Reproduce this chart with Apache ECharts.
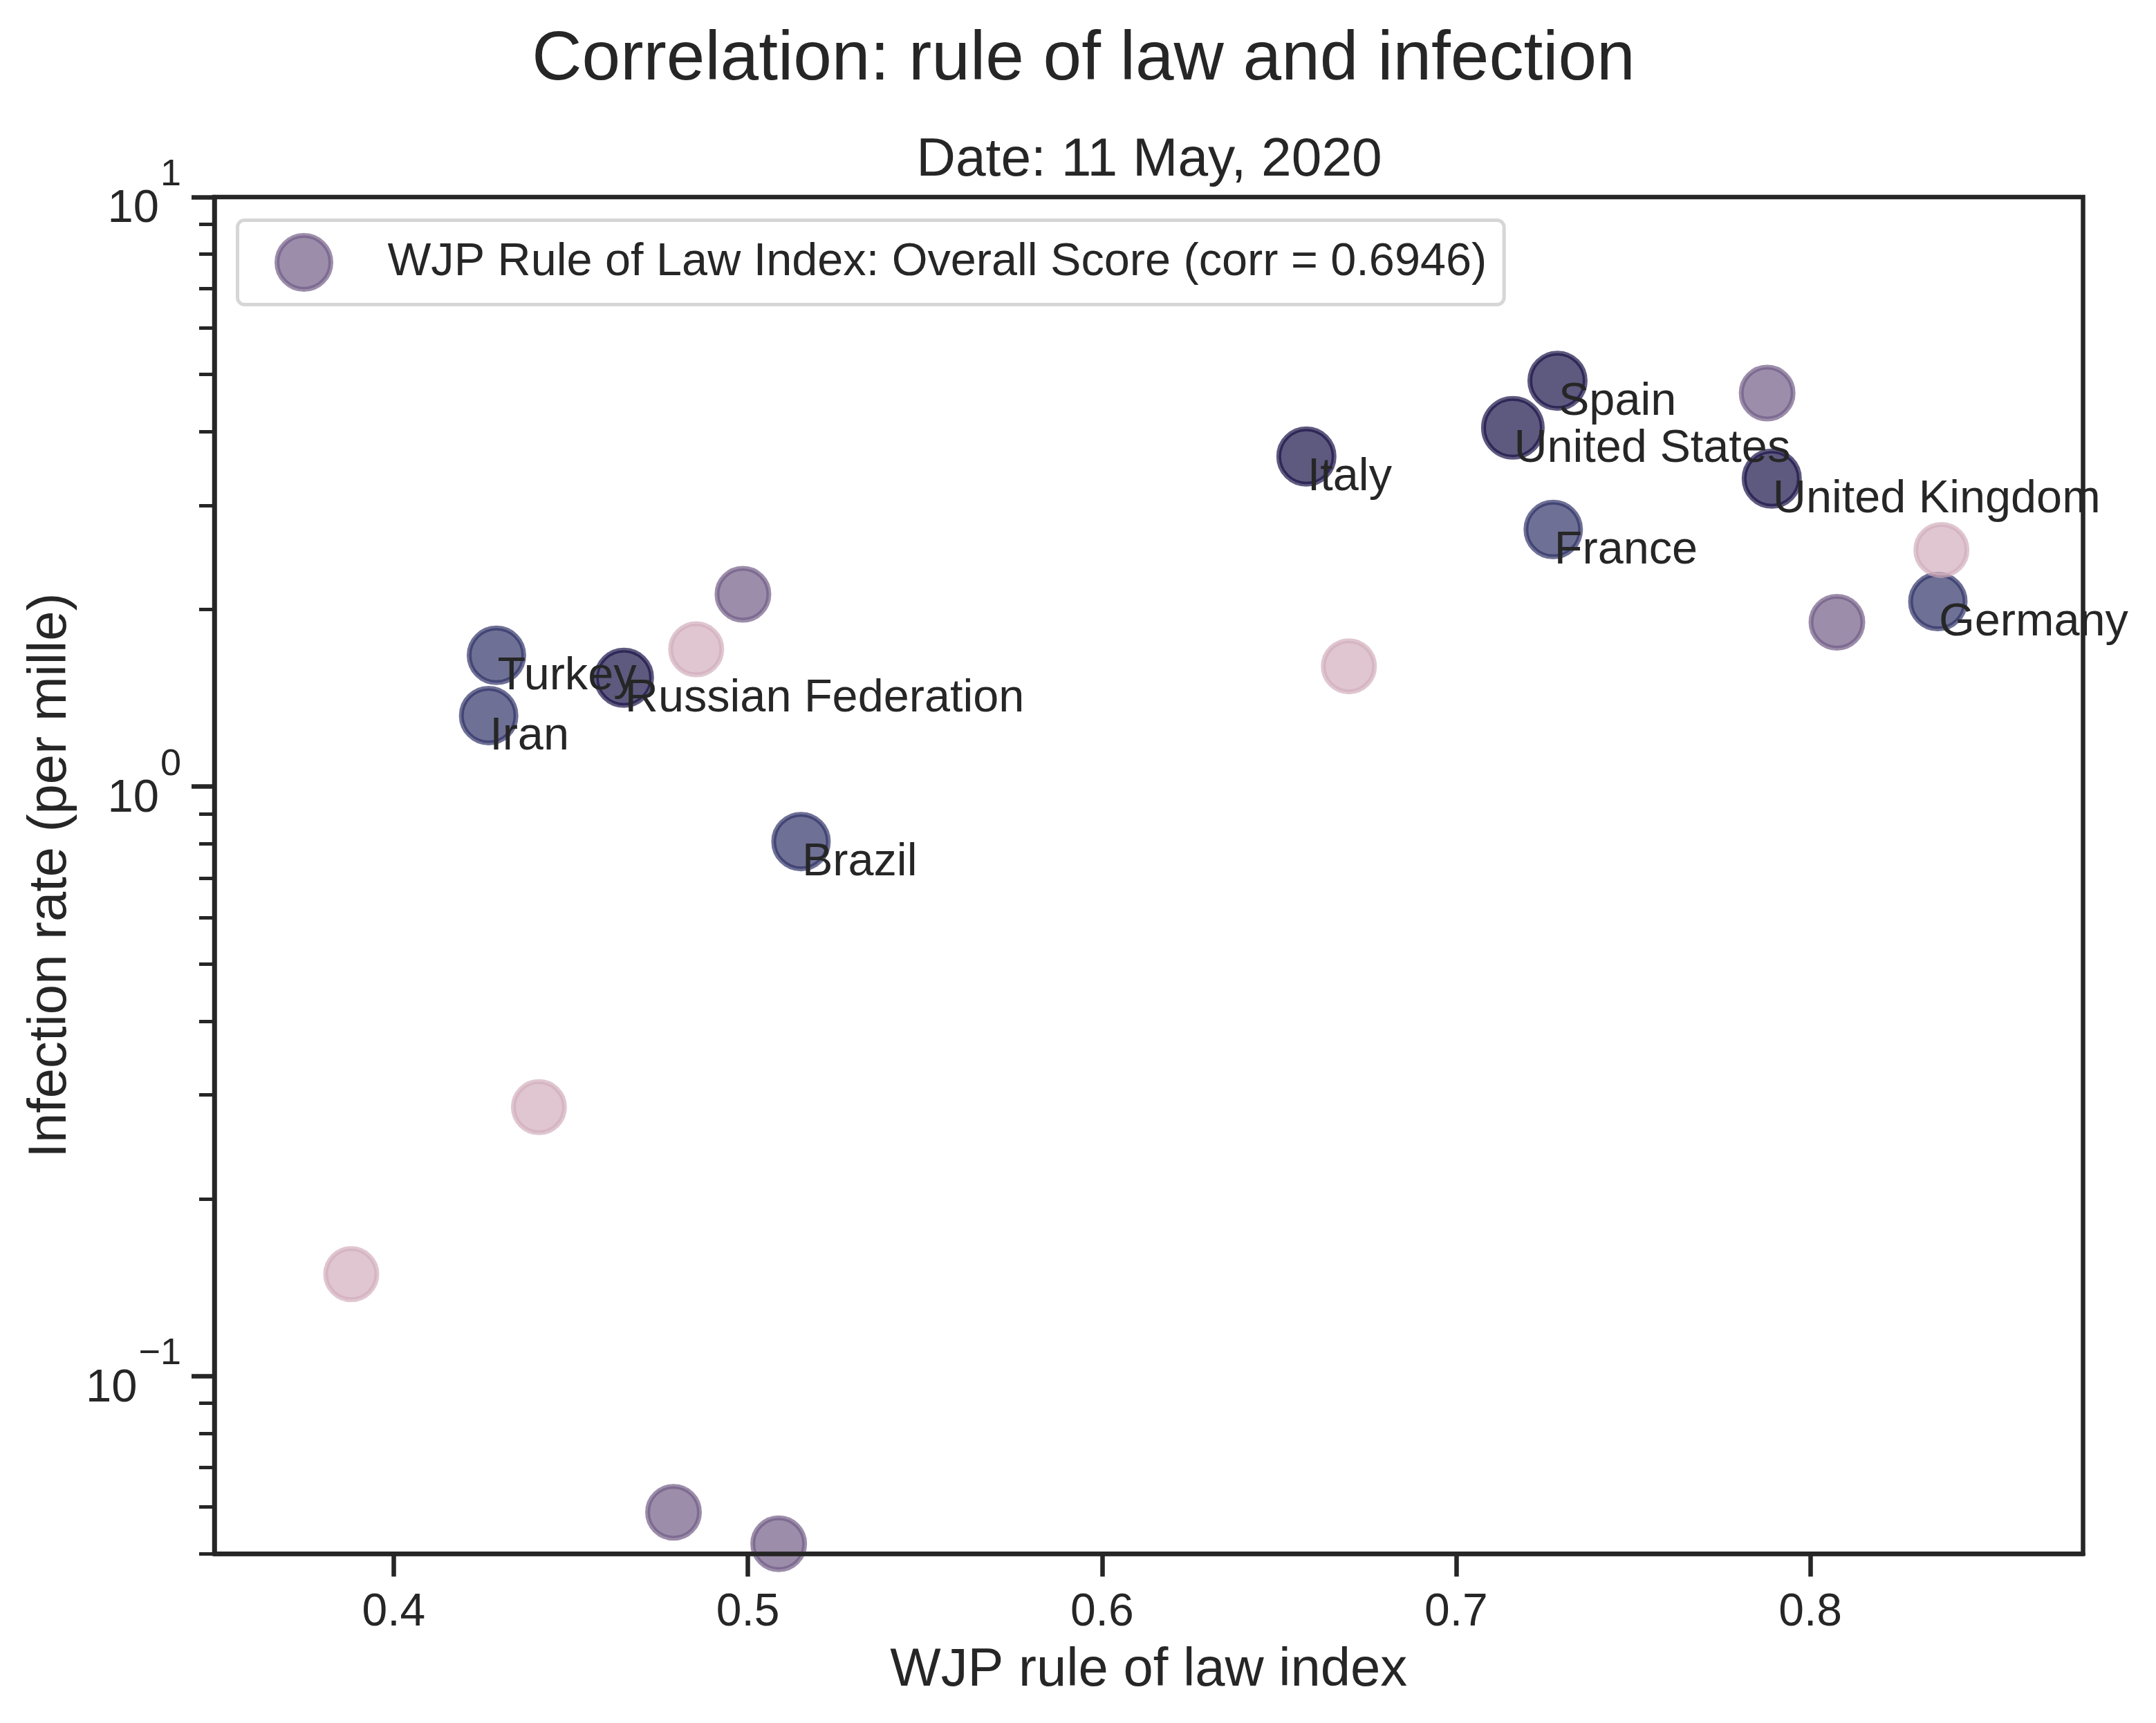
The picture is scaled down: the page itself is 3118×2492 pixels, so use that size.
<!DOCTYPE html>
<html><head><meta charset="utf-8">
<style>html,body{margin:0;padding:0;background:#fff}#c{width:3118px;height:2492px}</style>
<script src="https://cdn.jsdelivr.net/npm/echarts@6/dist/echarts.min.js"></script>
</head><body><div id="c"></div>
<script>
const countries = ['', '', '', '', '', '', 'Germany', 'France', 'Italy', 'United Kingdom', 'United States', 'Spain', 'Turkey', 'Russian Federation', 'Iran', 'Brazil', '', '', '', ''];
const ruleOfLaw = [0.479, 0.5087, 0.4986, 0.7878, 0.8075, 0.6697, 0.836, 0.7274, 0.6577, 0.7891, 0.716, 0.7286, 0.429, 0.465, 0.4268, 0.515, 0.4854, 0.441, 0.388, 0.837];
const infection = [0.0588, 0.052, 2.12, 4.65, 1.90, 1.60, 2.06, 2.73, 3.63, 3.33, 4.06, 4.88, 1.67, 1.53, 1.32, 0.807, 1.71, 0.286, 0.149, 2.52];
const tones = [2, 2, 2, 2, 2, 3, 1, 1, 0, 0, 0, 0, 1, 0, 1, 1, 3, 3, 3, 3];
const xTicks = [0.4, 0.5, 0.6, 0.7, 0.8];
const yMajor = [0.1, 1, 10];
const yMinor = [0.05, 0.06, 0.07, 0.08, 0.09, 0.2, 0.3, 0.4, 0.5, 0.6, 0.7, 0.8, 0.9, 2, 3, 4, 5, 6, 7, 8, 9];
const legendName = 'WJP Rule of Law Index: Overall Score (corr = 0.6946)';

const toneColors = ['rgba(25,19,71,0.7)', 'rgba(49,51,104,0.7)', 'rgba(114,92,134,0.7)', 'rgba(209,174,188,0.7)'];
const toneSizes = [80, 79, 75, 74];
const INK = '#262626', FONT = '"Liberation Sans", Arial, sans-serif';
const exps = {0.1: '\u22121', 1: '0', 10: '1'};

const chart = echarts.init(document.getElementById('c'), null, {renderer: 'canvas'});
chart.setOption({
  backgroundColor: '#fff',
  animation: false,
  textStyle: {fontFamily: FONT, color: INK},
  title: [
    {text: 'Correlation: rule of law and infection', left: 1562, top: 32, textAlign: 'center',
     textStyle: {fontSize: 100, fontWeight: 'normal', color: INK, fontFamily: FONT}},
    {text: 'Date: 11 May, 2020', left: 1657, top: 188, textAlign: 'center',
     textStyle: {fontSize: 78.5, fontWeight: 'normal', color: INK, fontFamily: FONT}}
  ],
  grid: {left: 310, top: 285, width: 2702.5, height: 1962.2, show: true, borderColor: INK, borderWidth: 6.5, backgroundColor: 'transparent'},
  legend: {
    left: 343.5, top: 318.5, padding: [18.5, 25, 18.5, 53.5], data: [legendName],
    itemWidth: 78, itemHeight: 78, icon: 'circle',
    itemStyle: {color: toneColors[2], borderColor: toneColors[2], borderWidth: 7, opacity: 1},
    borderColor: '#d6d6d6', borderWidth: 5, borderRadius: 10, backgroundColor: '#fff',
    textStyle: {fontSize: 66.6, color: INK, fontFamily: FONT, padding: [0, 0, 0, 77]}
  },
  xAxis: {
    type: 'value', min: 0.34935, max: 0.877, splitLine: {show: false}, z: 5,
    name: 'WJP rule of law index', nameLocation: 'middle', nameGap: 130,
    nameTextStyle: {fontSize: 77.8, color: INK, fontFamily: FONT},
    axisLine: {show: true, onZero: false, lineStyle: {color: INK, width: 6.5}},
    axisTick: {show: true, length: 33, lineStyle: {color: INK, width: 6.5}, customValues: xTicks},
    axisLabel: {fontSize: 66, color: INK, margin: 53, fontFamily: FONT, customValues: xTicks, formatter: v => v.toFixed(1), showMinLabel: true, showMaxLabel: true}
  },
  yAxis: [
    {
      type: 'log', logBase: 10, min: 0.05, max: 10, splitLine: {show: false}, z: 5,
      name: 'Infection rate (per mille)', nameLocation: 'middle', nameGap: 196, nameRotate: 90,
      nameTextStyle: {fontSize: 77.8, color: INK, fontFamily: FONT},
      axisLine: {show: true, onZero: false, lineStyle: {color: INK, width: 6.5}},
      axisTick: {show: true, length: 33, lineStyle: {color: INK, width: 6.5}, customValues: yMajor},
      axisLabel: {
        margin: 48, customValues: yMajor, showMinLabel: true, showMaxLabel: true,
        formatter: v => '{b|10}{s|' + exps[v] + '}',
        rich: {
          b: {fontSize: 67, color: INK, fontFamily: FONT, height: 68, lineHeight: 104, verticalAlign: 'bottom'},
          s: {fontSize: 54, color: INK, fontFamily: FONT, height: 40, lineHeight: 40, verticalAlign: 'top', padding: [0, 0, 0, 2]}
        }
      }
    },
    {
      type: 'log', logBase: 10, min: 0.05, max: 10, position: 'left', splitLine: {show: false},
      axisLine: {show: false}, axisLabel: {show: false},
      axisTick: {show: true, length: 22, lineStyle: {color: INK, width: 5}, customValues: yMinor}
    }
  ],
  series: [
    {
      name: legendName, type: 'scatter', z: 3, clip: true,
      itemStyle: {color: toneColors[2], borderColor: toneColors[2], borderWidth: 7, opacity: 1},
      data: ruleOfLaw.map((x, i) => ({
        value: [x, infection[i]],
        symbolSize: countries[i] === 'United States' ? 85 : toneSizes[tones[i]],
        itemStyle: {color: toneColors[tones[i]], borderColor: toneColors[tones[i]], borderWidth: 7, opacity: 1}
      }))
    },
    {
      name: 'labels', type: 'scatter', z: 6, clip: false, symbolSize: 1, silent: true,
      itemStyle: {color: 'transparent', opacity: 1},
      label: {show: true, position: 'right', distance: 0, formatter: p => p.name, fontSize: 66.6, color: INK, fontFamily: FONT, opacity: 1,
        align: 'left', verticalAlign: 'top', offset: [1, -3]},
      data: ruleOfLaw.map((x, i) => ({name: countries[i], value: [x, infection[i]]})).filter(d => d.name)
    }
  ]
});
</script></body></html>
